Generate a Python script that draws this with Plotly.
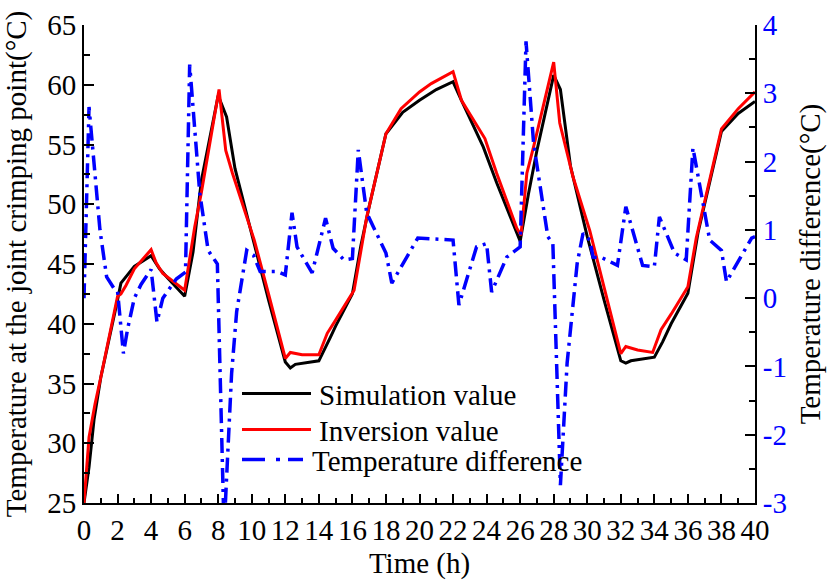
import plotly.graph_objects as go

# ---- data ----
time_sim = [0, 0.3, 0.6, 1, 2, 2.2, 3, 4, 4.5, 5, 6, 6.5, 7, 8, 8.5, 9, 10, 11, 12, 12.3, 12.6, 14,
            14.7, 15, 16, 16.5, 17, 18, 19, 20, 21, 22, 22.5, 23.8, 24.6, 26, 26.5, 27, 28, 28.4, 29,
            30, 31, 32, 32.3, 32.6, 34, 34.5, 35, 36, 36.6, 37, 38, 39, 40]
sim_value = [25, 28, 32, 35.5, 42, 43.4, 44.8, 45.7, 44.6, 43.8, 42.3, 46, 52, 59.1, 57.3, 53, 47.5, 42,
             36.8, 36.3, 36.6, 36.9, 38.9, 39.8, 42.5, 46.5, 49.8, 55.9, 57.7, 58.7, 59.6, 60.25, 58.7,
             54.8, 51.8, 46.9, 50.9, 54.5, 60.8, 59.6, 53.2, 47.3, 42, 36.9, 36.7, 36.9, 37.2, 38.5, 40,
             42.55, 47.6, 50, 56.1, 57.6, 58.6]

time_inv = [0, 0.3, 0.66, 1, 2, 2.2, 2.5, 3, 4, 4.3, 4.7, 6, 6.6, 6.9, 7, 8.05, 8.45, 8.85, 10.15, 11, 12,
            12.3, 13, 14, 14.5, 15, 16.1, 16.85, 18, 18.9, 20, 20.7, 22, 22.5, 23.9, 24.6, 25.8, 26.05,
            26.4, 26.8, 28, 28.36, 29.15, 30.15, 31, 32, 32.3, 33, 33.9, 34.4, 35, 36, 36.5, 37, 38, 39, 40]
inv_value = [25, 30.5, 33.3, 35.5, 42.3, 42.5, 43.2, 44.6, 46.2, 45.1, 44.2, 42.8, 48.1, 50.3, 51, 59.6,
             54.5, 52.6, 47, 42.5, 37.1, 37.6, 37.4, 37.4, 39.2, 40.3, 42.8, 48.9, 55.9, 58, 59.4, 60.1,
             61.1, 58.7, 55.5, 52.6, 48.0, 47.4, 52.6, 54.8, 61.9, 56.8, 52.3, 47.8, 43, 37.5, 38.1, 37.8,
             37.6, 39.5, 40.8, 43.1, 47.2, 50.3, 56.3, 58, 59.4]

time_diff = [0, 0.3, 0.95, 1.35, 1.85, 2.0, 2.35, 2.6, 3.0, 3.4, 4.0, 4.35, 4.7, 5.0, 5.5, 6.05, 6.3, 6.9,
             7.4, 7.95, 8.35, 8.8, 9.1, 9.7, 10.1, 10.5, 11.5, 12.0, 12.4, 12.7, 13.6, 14.4, 14.85, 15.5,
             16.0, 16.35, 16.85, 18.0, 18.35, 19.9, 22.0, 22.35, 23.4, 24.0, 24.3, 25.2, 26.0, 26.35,
             26.8, 27.65, 27.95, 28.4, 28.8, 29.4, 29.75, 30.15, 30.35, 30.9, 31.8, 32.3, 33.3, 34.0,
             34.3, 35.2, 35.9, 36.3, 37.3, 38.0, 38.3, 39.8, 40]
diff_value = [0.0, 2.8, 1.0, 0.31, 0.12, 0.1, -0.81, -0.45, 0.0, 0.2, 0.42, -0.35, 0.0, 0.1, 0.28, 0.38,
              3.42, 1.54, 0.7, 0.5, -3.4, -1.1, -0.2, 0.7, 0.63, 0.39, 0.39, 0.34, 1.25, 0.75, 0.37,
              1.17, 0.73, 0.56, 0.58, 2.17, 1.25, 0.66, 0.22, 0.88, 0.85, -0.1, 0.75, 0.8, 0.09, 0.6,
              0.75, 3.76, 2.27, 0.9, 0.8, -2.74, -0.95, 0.51, 0.95, 0.85, 0.6, 0.59, 0.48, 1.34, 0.48,
              0.46, 1.19, 0.66, 0.56, 2.2, 0.85, 0.7, 0.24, 0.88, 0.9]

x_ticks = list(range(0, 41, 2))
y_ticks = [25, 30, 35, 40, 45, 50, 55, 60, 65]
y2_ticks = [-3, -2, -1, 0, 1, 2, 3, 4]

series_names = ["Simulation value", "Inversion value", "Temperature difference"]
series_colors = ["black", "#ff0000", "#0000ff"]

FONT = "Liberation Serif"
FS = 29
W, H = 827, 580
ML, MR, MT, MB = 84, 72, 25, 77
PW, PH = W - ML - MR, H - MT - MB


def px2paper(x, y):
    return (x - ML) / PW, (H - MB - y) / PH


fig = go.Figure()
fig.add_trace(go.Scatter(x=time_sim, y=sim_value, mode="lines", name=series_names[0],
                         line=dict(color=series_colors[0], width=3), showlegend=False))
fig.add_trace(go.Scatter(x=time_inv, y=inv_value, mode="lines", name=series_names[1],
                         line=dict(color=series_colors[1], width=3), showlegend=False))
fig.add_trace(go.Scatter(x=time_diff, y=diff_value, mode="lines", name=series_names[2],
                         yaxis="y2", showlegend=False,
                         line=dict(color=series_colors[2], width=3.5, dash="15px,6px,3px,6px")))

# ---- legend drawn in the plot area ----
shapes = []
annotations = []
legend_rows = [(393.5, [(242, 311)], 317),
               (429.5, [(242, 311)], 317),
               (459.5, [(242, 265), (276, 280), (288, 303)], 310)]
for (yy, segs, tx), name, col in zip(legend_rows, series_names, series_colors):
    for (a, b) in segs:
        x0, y0 = px2paper(a, yy)
        x1, _ = px2paper(b, yy)
        shapes.append(dict(type="line", xref="paper", yref="paper", x0=x0, x1=x1, y0=y0, y1=y0,
                           line=dict(color=col, width=3.5 if col == "#0000ff" else 3)))
    ax, ay = px2paper(tx, yy + 1)
    annotations.append(dict(text=name, xref="paper", yref="paper", x=ax, y=ay, xanchor="left",
                            yanchor="middle", showarrow=False,
                            font=dict(family=FONT, size=FS, color="black")))

fig.update_layout(
    width=W, height=H,
    margin=dict(l=ML, r=MR, t=MT, b=MB, autoexpand=False),
    paper_bgcolor="white", plot_bgcolor="white",
    font=dict(family=FONT, size=FS, color="black"),
    shapes=shapes, annotations=annotations,
    showlegend=False,
    xaxis=dict(range=[0, 40], tickvals=x_ticks, ticktext=[str(v) for v in x_ticks],
               automargin=False,
               ticks="inside", ticklen=9, tickwidth=1.5,
               tickcolor="black", showline=True, linecolor="black", linewidth=2,
               showgrid=False, zeroline=False,
               minor=dict(dtick=1, ticks="inside", ticklen=5, tickwidth=1.5, tickcolor="black"),
               tickfont=dict(family=FONT, size=FS),
               title=dict(text="Time (h)", font=dict(family=FONT, size=FS), standoff=17)),
    yaxis=dict(range=[25, 65], tickvals=y_ticks, ticktext=[str(v) for v in y_ticks],
               automargin=False,
               ticks="inside", ticklen=10, tickwidth=1.5,
               tickcolor="black", showline=True, linecolor="black", linewidth=2,
               showgrid=False, zeroline=False,
               minor=dict(dtick=2.5, ticks="inside", ticklen=6, tickwidth=1.5, tickcolor="black"),
               tickfont=dict(family=FONT, size=FS),
               title=dict(text="Temperature at the joint crimping point(°C)",
                          font=dict(family=FONT, size=FS), standoff=12)),
    yaxis2=dict(range=[-3, 4], tickvals=y2_ticks, ticktext=[str(v) for v in y2_ticks],
                automargin=False,
                overlaying="y", side="right",
                ticks="inside", ticklen=10, tickwidth=1.5, tickcolor="black",
                showline=True, linecolor="black", linewidth=2,
                showgrid=False, zeroline=False,
                minor=dict(dtick=0.5, ticks="inside", ticklen=6, tickwidth=1.5, tickcolor="black"),
                tickfont=dict(family=FONT, size=FS, color="#0000ff"),
                title=dict(text="Temperature difference(°C)", font=dict(family=FONT, size=FS),
                           standoff=18)),
)

fig.write_html("out.html")
